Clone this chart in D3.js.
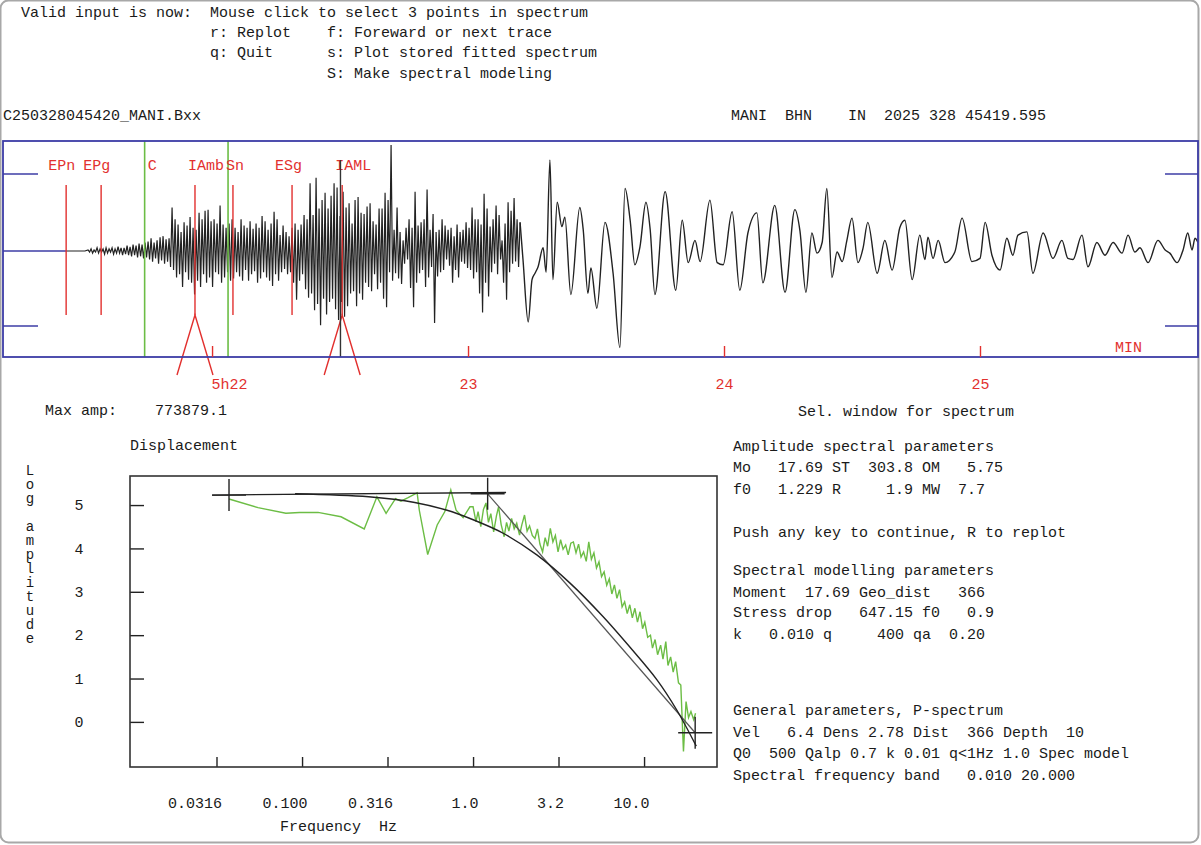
<!DOCTYPE html>
<html>
<head>
<meta charset="utf-8">
<script src="https://cdn.jsdelivr.net/npm/d3@7"></script>
<style>
  body { margin: 0; background: #fff; }
  text { font-family: "Liberation Mono", "DejaVu Sans Mono", monospace; font-size: 15px; white-space: pre; fill: #1a1a1a; }
</style>
</head>
<body>
<div id="chart"></div>
<script>
// ---------------- data ----------------
var menuLines = [
  "Valid input is now:  Mouse click to select 3 points in spectrum",
  "                     r: Replot    f: Foreward or next trace",
  "                     q: Quit      s: Plot stored fitted spectrum",
  "                                  S: Make spectral modeling"
];
var fileName = "C250328045420_MANI.Bxx";
var stationLine = "MANI  BHN    IN  2025 328 45419.595";
var maxAmp = "773879.1";

// time in seconds after 05:22:00, trace amplitude in % of max amp
var minuteTicks = [0, 60, 120, 180];
var minuteLabels = ["5h22", "23", "24", "25"];
var phaseNames = ["EPn", "EPg", "IAmb", "Sn", "ESg", "IAML"];
var phaseSec = [-34.2, -26.0, -4.0, 4.9, 18.75, 30.5];
var ampPickSec = [-4.0, 30.5];
var codaSec = [-15.8, 3.75];
var cursorSec = 30.1;

var traceLead = [[-34.0, 0], [-29.8, 0]];
var traceStart = -29.06, traceStep = 0.3516;
var traceHF = [
  1,-1,2,-2,1,-1,3,-2,2,-1,2,-3,3,-2,2,-1,3,-3,2,-2,
  4,-2,3,-4,3,-3,5,-4,4,-5,6,-4,5,-6,7,-5,6,-7,8,-6,
  9,-8,12,-10,8,-7,10,-12,13,-9,14,-12,11,-10,12,-15,41,-18,30,-25,
  25,-22,18,-34,27,-20,24,-27,32,-30,22,-41,20,-28,36,-34,30,-22,38,-30,
  39,-25,28,-34,30,-20,26,-22,43,-30,25,-25,22,-20,26,-28,30,-26,22,-20,
  18,-24,30,-28,24,-18,22,-28,28,-22,21,-19,26,-30,22,-26,33,-20,28,-25,
  20,-28,26,-33,37,-22,30,-28,15,-20,24,-17,18,-22,14,-20,22,-30,26,-46,
  20,-28,25,-22,34,-36,30,-44,64,-40,34,-56,69,-50,40,-70,48,-45,55,-60,
  40,-48,52,-45,64,-55,60,-65,33,-48,56,-62,41,-52,45,-40,26,-38,48,-52,
  51,-40,36,-46,35,-30,42,-34,45,-38,28,-22,25,-36,40,-30,40,-45,55,-53,
  48,-20,100,-28,20,-21,41,-26,18,-31,10,-12,22,-8,30,-35,22,-53,56,-30,
  24,-21,27,-18,30,-34,58,-25,20,-15,35,-68,18,-24,20,-20,30,-18,24,-8,
  20,-14,22,-30,14,-18,25,-25,18,-10,20,-12,27,-16,22,-18,41,-26,30,-20,
  30,-40,25,-58,54,-30,40,-43,23,-20,30,-12,43,-22,34,-8,10,-30,26,-46,
  46,-20,38,-12,50,-10,30,-15,27
];
var traceLF = [
  [72.9,-9],[74.1,-67],[75.0,-27],[75.7,-21],[76.4,-15],[77.6,3],[78.3,-20],[79.2,86],[79.9,-27],[80.9,46],
  [82.0,23],[82.7,32],[84.1,-41],[86.2,41],[87.0,20],[88.1,-40],[88.8,-16],[90.2,-54],[92.1,27],[94.0,-21],
  [95.6,-91],[96.8,59],[98.0,29],[99.1,-13],[100.3,4],[101.7,46],[102.7,20],[103.8,-41],[106.2,56],[108.7,-37],
  [110.2,29],[111.6,-11],[113.2,10],[114.4,-10],[116.7,48],[118.4,-11],[119.8,-13],[121.9,37],[123.7,-37],[125.6,17],
  [127.7,36],[129.1,-30],[131.9,43],[134.3,-39],[136.6,39],[137.8,19],[139.2,-39],[140.6,17],[141.8,-2],[143.0,8],
  [144.1,59],[145.3,-25],[146.5,-1],[147.7,-10],[148.8,10],[150.0,31],[151.4,-11],[152.6,3],[153.7,27],[155.9,-21],
  [157.7,10],[159.4,-18],[161.2,22],[162.4,29],[164.1,-27],[165.9,15],[167.1,-8],[167.8,13],[169.0,-7],[170.2,10],
  [171.8,-11],[174.1,-1],[175.8,31],[178.1,-10],[180.0,-7],[181.2,27],[182.8,-4],[184.7,-18],[186.3,12],[187.7,-4],
  [188.9,15],[191.0,18],[192.4,-21],[194.8,17],[197.1,-7],[199.2,10],[200.6,-7],[201.8,-8],[203.9,15],[205.3,-15],
  [207.4,8],[209.3,-4],[211.2,8],[213.3,-2],[214.7,15],[216.3,-1],[217.5,3],[219.4,-11],[221.7,10],[223.4,1],
  [224.5,-2],[226.2,-11],[227.6,1],[228.7,17],[229.7,1],[230.4,12],[231.1,8]
];

// displacement spectrum: frequency Hz, log amplitude
var freqTicks = [0.0316, 0.1, 0.316, 1.0, 3.16, 10];
var freqLabels = ["0.0316", "0.100", "0.316", "1.0", "3.2", "10.0"];
var ampTicks = [0, 1, 2, 3, 4, 5];
var specLow = [
  [0.0374,5.14],[0.0553,4.94],[0.0804,4.81],[0.0966,4.83],[0.124,4.83],[0.169,4.73],[0.231,4.45],
  [0.274,5.19],[0.310,4.81],[0.352,5.15],[0.379,5.09],[0.417,5.17],[0.471,5.28],[0.485,4.88],
  [0.543,3.86],[0.617,4.54],[0.684,4.85],[0.741,5.35],[0.796,4.88],[0.875,4.71],[0.959,4.96]
];
var specHighFreq = [
  1.00,1.04,1.07,1.11,1.15,1.19,1.23,1.27,1.32,1.37,
  1.41,1.46,1.52,1.57,1.62,1.68,1.74,1.80,1.87,1.93,
  2.00,2.07,2.14,2.22,2.30,2.38,2.46,2.55,2.64,2.73,
  2.83,2.93,3.03,3.14,3.25,3.36,3.48,3.60,3.73,3.86,
  4.00,4.14,4.28,4.43,4.59,4.75,4.92,5.09,5.27,5.45,
  5.64,5.84,6.05,6.26,6.48,6.71,6.94,7.19,7.44,7.70,
  7.97,8.25,8.54,8.84,9.15,9.47,9.80,10.1,10.5,10.9,
  11.2,11.6,12.0,12.5,12.9,13.4,13.8,14.3,14.8,15.3,
  15.9,16.4,17.0,17.6,18.2,18.8,19.5,20.0
];
var specHighAmp = [
  4.96,4.62,4.85,4.50,4.90,5.05,4.60,4.80,4.38,4.75,
  4.96,4.55,4.27,4.60,4.40,4.69,4.45,4.58,4.31,4.55,
  4.77,4.40,4.52,4.30,4.23,4.45,4.10,3.92,4.25,4.05,
  4.46,4.15,4.30,3.92,4.20,3.98,4.08,3.85,4.12,4.15,
  3.90,4.10,3.80,3.92,3.70,4.15,3.75,3.90,3.55,3.69,
  3.35,3.46,3.15,3.30,2.95,3.16,2.85,3.05,2.65,2.77,
  2.50,2.70,2.40,2.62,2.30,2.54,2.15,2.30,1.95,2.00,
  1.70,1.90,1.55,1.77,1.45,1.85,1.30,1.50,1.15,1.39,
  0.90,0.85,-0.68,0.47,0.10,0.24,0.05,0.20
];
var pickPoints = [[0.0374, 5.23], [1.217, 5.26], [19.9, -0.25]];
var flatLine = [[0.0298, 5.23], [1.56, 5.29]];
var fitLine = [[1.217, 5.26], [19.9, -0.25]];
var fitCurve = [
  [0.091,5.26],[0.245,5.19],[0.456,5.06],[0.705,4.88],[0.96,4.69],[1.50,4.35],[2.36,3.85],
  [3.69,3.20],[5.75,2.43],[8.28,1.72],[11.9,0.97],[15.5,0.28],[20.2,-0.56]
];

var paramLines = [
  "Amplitude spectral parameters",
  "Mo   17.69 ST  303.8 OM   5.75",
  "f0   1.229 R     1.9 MW  7.7",
  "Push any key to continue, R to replot",
  "Spectral modelling parameters",
  "Moment  17.69 Geo_dist   366",
  "Stress drop   647.15 f0   0.9",
  "k   0.010 q     400 qa  0.20",
  "General parameters, P-spectrum",
  "Vel   6.4 Dens 2.78 Dist  366 Depth  10",
  "Q0  500 Qalp 0.7 k 0.01 q<1Hz 1.0 Spec model",
  "Spectral frequency band   0.010 20.000"
];
var paramY = [451, 472, 494, 537, 575, 597, 617, 639, 715, 737, 758, 780];

// ---------------- drawing ----------------
var W = 1201, H = 845;
var red = "#e2302e", blue = "#3c3ca6", green = "#6cbd45", ink = "#222";

var svg = d3.select("#chart").append("svg")
    .attr("width", W)
    .attr("height", H)

svg.append("rect")
    .attr("x", 0.5).attr("y", 0.5)
    .attr("width", 1198).attr("height", 842)
    .attr("rx", 8)
    .attr("fill", "#fff")
    .attr("stroke", "#a8a8a8")
    .attr("stroke-width", 2)

// menu + header texts
svg.selectAll(".menu")
  .data(menuLines)
  .enter()
  .append("text")
    .attr("x", 21)
    .attr("y", function (d, i) { return [17, 37, 57, 78][i]; })
    .text(function (d) { return d; })

svg.append("text").attr("x", 3).attr("y", 120).text(fileName)
svg.append("text").attr("x", 731).attr("y", 120).text(stationLine)

// ---- seismogram ----
var x = d3.scaleLinear().domain([-49, 231.1]).range([3, 1198])
var y = d3.scaleLinear().domain([-100, 100]).range([357, 145])

svg.append("clipPath").attr("id", "seisclip")
  .append("rect").attr("x", 3).attr("y", 141).attr("width", 1195).attr("height", 216)

// blue amplitude marks
var blueMarks = [[3, 38, 174], [3, 38, 326], [1165, 1198, 174], [1165, 1198, 326]];
svg.selectAll(".bm")
  .data(blueMarks)
  .enter()
  .append("line")
    .attr("x1", function (d) { return d[0]; })
    .attr("x2", function (d) { return d[1]; })
    .attr("y1", function (d) { return d[2]; })
    .attr("y2", function (d) { return d[2]; })
    .attr("stroke", blue).attr("stroke-width", 1.5)

svg.append("line")
    .attr("x1", 3).attr("x2", x(traceLead[0][0]))
    .attr("y1", y(0)).attr("y2", y(0))
    .attr("stroke", blue).attr("stroke-width", 1.5)

var hfPts = traceLead
  .concat(traceHF.map(function (v, i) { return [traceStart + i * traceStep, v]; }))
var lfPts = [hfPts[hfPts.length - 1]].concat(traceLF)

var tline = d3.line()
    .x(function (d) { return x(d[0]); })
    .y(function (d) { return y(d[1]); })

var tg = svg.append("g").attr("clip-path", "url(#seisclip)")
tg.append("path")
    .datum(hfPts)
    .attr("fill", "none")
    .attr("stroke", ink)
    .attr("stroke-width", 1.2)
    .attr("d", tline)
tg.append("path")
    .datum(lfPts)
    .attr("fill", "none")
    .attr("stroke", ink)
    .attr("stroke-width", 1.4)
    .attr("d", d3.line()
      .x(function (d) { return x(d[0]); })
      .y(function (d) { return y(d[1]); })
      .curve(d3.curveMonotoneX))

// coda window
svg.selectAll(".coda")
  .data(codaSec)
  .enter()
  .append("line")
    .attr("x1", function (d) { return x(d); })
    .attr("x2", function (d) { return x(d); })
    .attr("y1", 141).attr("y2", 357)
    .attr("stroke", green).attr("stroke-width", 1.6)

svg.append("text")
    .attr("x", x(codaSec[0]) + 3).attr("y", 170)
    .style("fill", red)
    .text("C")

// phase picks
var labelDx = { EPn: -18, EPg: -18, IAmb: -7, Sn: -7, ESg: -17, IAML: -7 };
svg.selectAll(".ph")
  .data(phaseSec)
  .enter()
  .append("line")
    .attr("x1", function (d) { return x(d); })
    .attr("x2", function (d) { return x(d); })
    .attr("y1", 185).attr("y2", 315)
    .attr("stroke", red).attr("stroke-width", 1.4)

svg.selectAll(".phl")
  .data(phaseNames)
  .enter()
  .append("text")
    .attr("x", function (d, i) { return x(phaseSec[i]) + labelDx[d]; })
    .attr("y", 170)
    .style("fill", red)
    .text(function (d) { return d; })

// amplitude pick markers
ampPickSec.forEach(function (s) {
  svg.append("path")
      .attr("d", "M" + (x(s) - 18) + ",375L" + x(s) + ",315L" + (x(s) + 18) + ",375")
      .attr("fill", "none")
      .attr("stroke", red).attr("stroke-width", 1.4)
})

svg.append("line")
    .attr("x1", x(cursorSec)).attr("x2", x(cursorSec))
    .attr("y1", 160).attr("y2", 357)
    .attr("stroke", "#333").attr("stroke-width", 1.4)

svg.append("rect")
    .attr("x", 3).attr("y", 141).attr("width", 1195).attr("height", 216)
    .attr("fill", "none")
    .attr("stroke", blue).attr("stroke-width", 1.8)

var tAxis = svg.append("g")
    .attr("transform", "translate(0,357)")
    .call(d3.axisBottom(x).tickValues(minuteTicks).tickSize(-11)
      .tickFormat(function (d, i) { return minuteLabels[i]; }))
tAxis.select(".domain").remove()
tAxis.selectAll(".tick line").attr("stroke", red).attr("stroke-width", 1.4)
tAxis.selectAll(".tick text")
    .attr("y", 21)
    .attr("font-size", null)
    .style("fill", red)
    .attr("text-anchor", function (d, i) { return i === 0 ? "start" : "middle"; })
    .attr("dx", function (d, i) { return i === 0 ? -1 : 0; })

svg.append("text").attr("x", 1115).attr("y", 352).style("fill", red).text("MIN")

// ---- texts between panels ----
svg.append("text").attr("x", 45).attr("y", 415).text("Max amp:")
svg.append("text").attr("x", 155).attr("y", 415).text(maxAmp)
svg.append("text").attr("x", 798).attr("y", 416).text("Sel. window for spectrum")
svg.append("text").attr("x", 130).attr("y", 450).text("Displacement")

svg.selectAll(".par")
  .data(paramLines)
  .enter()
  .append("text")
    .attr("x", 733)
    .attr("y", function (d, i) { return paramY[i]; })
    .text(function (d) { return d; })

// ---- spectrum ----
var xs = d3.scaleLog().domain([0.00986, 26.7]).range([130, 717])
var ys = d3.scaleLinear().domain([-1.04, 5.67]).range([767, 476])

svg.append("clipPath").attr("id", "specclip")
  .append("rect").attr("x", 130).attr("y", 476).attr("width", 587).attr("height", 291)

var xAxisS = svg.append("g")
    .attr("transform", "translate(0,767)")
    .call(d3.axisBottom(xs).tickValues(freqTicks).tickSize(-10)
      .tickFormat(function (d, i) { return freqLabels[i]; }))
xAxisS.select(".domain").remove()
xAxisS.selectAll(".tick line").attr("stroke", ink).attr("stroke-width", 1.4)
xAxisS.selectAll(".tick text")
    .attr("y", 30).attr("dx", 5)
    .attr("text-anchor", "end")
    .attr("font-size", null)

var yAxisS = svg.append("g")
    .attr("transform", "translate(130,0)")
    .call(d3.axisLeft(ys).tickValues(ampTicks).tickSize(-14).tickFormat(d3.format("d")))
yAxisS.select(".domain").remove()
yAxisS.selectAll(".tick line").attr("stroke", ink).attr("stroke-width", 1.4)
yAxisS.selectAll(".tick text")
    .attr("x", -51)
    .attr("text-anchor", "middle")
    .attr("font-size", null)

svg.append("text").attr("x", 280).attr("y", 831).text("Frequency  Hz")

svg.append("text")
    .attr("x", 30).attr("y", 463)
    .style("writing-mode", "vertical-rl")
    .style("text-orientation", "upright")
    .style("font-size", "14px")
    .style("letter-spacing", "-2px")
    .text("Log amplitude")

var spec = specLow.concat(specHighFreq.map(function (f, i) { return [f, specHighAmp[i]]; }))
var sline = d3.line()
    .x(function (d) { return xs(d[0]); })
    .y(function (d) { return ys(d[1]); })

var sg = svg.append("g").attr("clip-path", "url(#specclip)")

sg.append("path").datum(spec)
    .attr("fill", "none").attr("stroke", green).attr("stroke-width", 1.4)
    .attr("d", sline)

sg.append("path").datum(flatLine)
    .attr("fill", "none").attr("stroke", ink).attr("stroke-width", 1.3)
    .attr("d", sline)
sg.append("path").datum(fitLine)
    .attr("fill", "none").attr("stroke", "#555").attr("stroke-width", 1.2)
    .attr("d", sline)
sg.append("path").datum(fitCurve)
    .attr("fill", "none").attr("stroke", ink).attr("stroke-width", 1.4)
    .attr("d", sline.curve(d3.curveCatmullRom))

pickPoints.forEach(function (p) {
  var cx = xs(p[0]), cy = ys(p[1])
  svg.append("path")
      .attr("d", "M" + (cx - 17) + "," + cy + "H" + (cx + 17) + "M" + cx + "," + (cy - 16) + "V" + (cy + 16))
      .attr("stroke", ink).attr("stroke-width", 1.4)
})

svg.append("rect")
    .attr("x", 130).attr("y", 476).attr("width", 587).attr("height", 291)
    .attr("fill", "none")
    .attr("stroke", "#333").attr("stroke-width", 1.6)
</script>
</body>
</html>
